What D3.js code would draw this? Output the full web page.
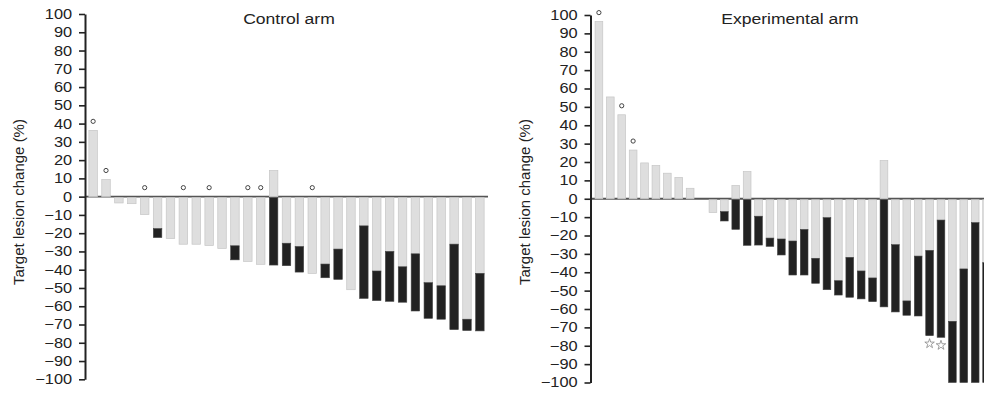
<!DOCTYPE html>
<html>
<head>
<meta charset="utf-8">
<script src="https://cdn.jsdelivr.net/npm/d3@7"></script>
<style>
  body { margin: 0; background: #fff; }
  svg { display: block; font-family: "Liberation Sans", Arial, sans-serif; }
</style>
</head>
<body>
<div id="chart-area"></div>
<script>
// grey = end of light part, dark = bottom of black part (null if none)
var controlGrey = [36.3, 9.4, -2.9, -3.3, -9.3, -17.5, -22.4, -25.5, -25.5, -26.2, -27.8, -26.9, -34.9, -36.5, 14.3,
    -25.5, -27.3, -41.5, -36.9, -28.7, -50.4, -16.0, -40.7, -30.0, -38.4, -31.3, -47.1, -48.8, -26.0, -67.1, -42.0];
var controlDark = [null, null, null, null, null, -22.4, null, null, null, null, null, -34.6, null, null, -36.9,
    -37.8, -41.3, null, -44.4, -45.3, null, -55.7, -56.9, -57.3, -57.8, -62.6, -66.6, -67.1, -72.8, -73.3, -73.5];
var controlMark = ["o", "o", "", "", "o", "", "", "o", "", "o", "", "", "o", "o", "",
    "", "", "o", "", "", "", "", "", "", "", "", "", "", "", "", ""];

var expGrey = [96.4, 55.4, 45.7, 26.5, 19.5, 18.1, 13.9, 11.6, 5.7, 0, -7.0, -7.0, 7.2, 14.8, -9.5,
    -21.4, -21.9, -23.0, -16.7, -32.4, -10.3, -44.6, -31.9, -39.3, -43.1, 20.8, -25.0, -55.6, -31.2, -28.1,
    -11.6, -66.7, -38.2, -13.0, -34.8];
var expDark = [null, null, null, null, null, null, null, null, null, null, null, -12.1, -16.1, -24.8, -25.2,
    -25.9, -30.6, -41.5, -41.5, -46.0, -49.5, -52.4, -53.6, -54.5, -56.0, -58.3, -61.6, -63.4, -63.8, -74.5,
    -75.4, -100, -100, -100, -100];
var expMark = ["o", "", "o", "o", "", "", "", "", "", "", "", "", "", "", "",
    "", "", "", "", "", "", "", "", "", "", "", "", "", "", "star",
    "star", "", "", "", ""];

var yTicks = d3.range(-100, 101, 10);

var svg = d3.select("#chart-area").append("svg")
    .attr("width", 984)
    .attr("height", 393);

var stretch = 1.17;

function panel(grey, dark, marks, title, axisX, xEnd, yTop, yBottom, padIn, padOut, titleX, labelX) {
    var data = grey.map(function(g, i) {
        return { i: i, grey: g, dark: dark[i], mark: marks[i] };
    });

    var x = d3.scaleBand()
        .domain(data.map(function(d) { return d.i; }))
        .range([axisX, xEnd])
        .paddingInner(padIn)
        .paddingOuter(padOut);

    var y = d3.scaleLinear()
        .domain([-100, 100])
        .range([yBottom, yTop]);

    var g = svg.append("g");

    // zero line
    g.append("line")
        .attr("x1", axisX)
        .attr("x2", xEnd)
        .attr("y1", y(0))
        .attr("y2", y(0))
        .attr("stroke", "#555")
        .attr("stroke-width", 1.8);

    // light part
    g.selectAll(".grey")
        .data(data)
        .enter()
        .append("rect")
        .attr("x", function(d) { return x(d.i); })
        .attr("width", x.bandwidth())
        .attr("y", function(d) { return y(Math.max(0, d.grey)) + (d.grey > 0 ? 0 : 1); })
        .attr("height", function(d) { return Math.abs(y(d.grey) - y(0)); })
        .attr("fill", "#dedede")
        .attr("stroke", "#c6c6c6")
        .attr("stroke-width", 0.7);

    // black part
    g.selectAll(".dark")
        .data(data.filter(function(d) { return d.dark !== null; }))
        .enter()
        .append("rect")
        .attr("x", function(d) { return x(d.i); })
        .attr("width", x.bandwidth())
        .attr("y", function(d) { return y(Math.min(0, d.grey)) + (d.grey > 0 ? 1 : 0); })
        .attr("height", function(d) { return y(d.dark) - y(Math.min(0, d.grey)); })
        .attr("fill", "#222")
        .attr("stroke", "#444")
        .attr("stroke-width", 0.6);

    // circles above bars
    g.selectAll(".circ")
        .data(data.filter(function(d) { return d.mark === "o"; }))
        .enter()
        .append("circle")
        .attr("cx", function(d) { return x(d.i) + x.bandwidth() / 2; })
        .attr("cy", function(d) { return y(Math.max(0, d.grey)) - 9; })
        .attr("r", 2.1)
        .attr("fill", "none")
        .attr("stroke", "#444")
        .attr("stroke-width", 1);

    // stars below bars
    g.selectAll(".star")
        .data(data.filter(function(d) { return d.mark === "star"; }))
        .enter()
        .append("path")
        .attr("d", d3.symbol(d3.symbolStar, 28))
        .attr("transform", function(d) {
            return "translate(" + (x(d.i) + x.bandwidth() / 2) + "," + (y(d.dark) + 8) + ")";
        })
        .attr("fill", "none")
        .attr("stroke", "#888")
        .attr("stroke-width", 0.8);

    // y axis
    var axis = g.append("g")
        .attr("transform", "translate(" + axisX + ",0)")
        .call(d3.axisLeft(y).tickValues(yTicks).tickSize(6).tickSizeOuter(0).tickPadding(5));
    axis.select(".domain").attr("stroke", "#222").attr("stroke-width", 2);
    axis.selectAll(".tick line").attr("stroke", "#222").attr("stroke-width", 1.6);
    axis.selectAll(".tick text")
        .attr("font-size", 14)
        .attr("fill", "#222")
        .attr("transform", "scale(" + stretch + ",1)");

    // title
    g.append("g")
        .attr("transform", "translate(" + titleX + "," + 24 + ") scale(" + stretch + ",1)")
        .append("text")
        .attr("text-anchor", "middle")
        .attr("font-size", 15)
        .attr("fill", "#222")
        .text(title);

    // y label
    g.append("text")
        .attr("transform", "translate(" + labelX + "," + 202 + ") rotate(-90)")
        .attr("text-anchor", "middle")
        .attr("font-size", 15)
        .attr("fill", "#222")
        .text("Target lesion change (%)");
}

panel(controlGrey, controlDark, controlMark, "Control arm", 85, 488, 14, 379.3, 0.34, 0.3, 289, 24);
panel(expGrey, expDark, expMark, "Experimental arm", 590.5, 995, 15, 382.5, 0.325, 0.4, 790, 530);
</script>
</body>
</html>
